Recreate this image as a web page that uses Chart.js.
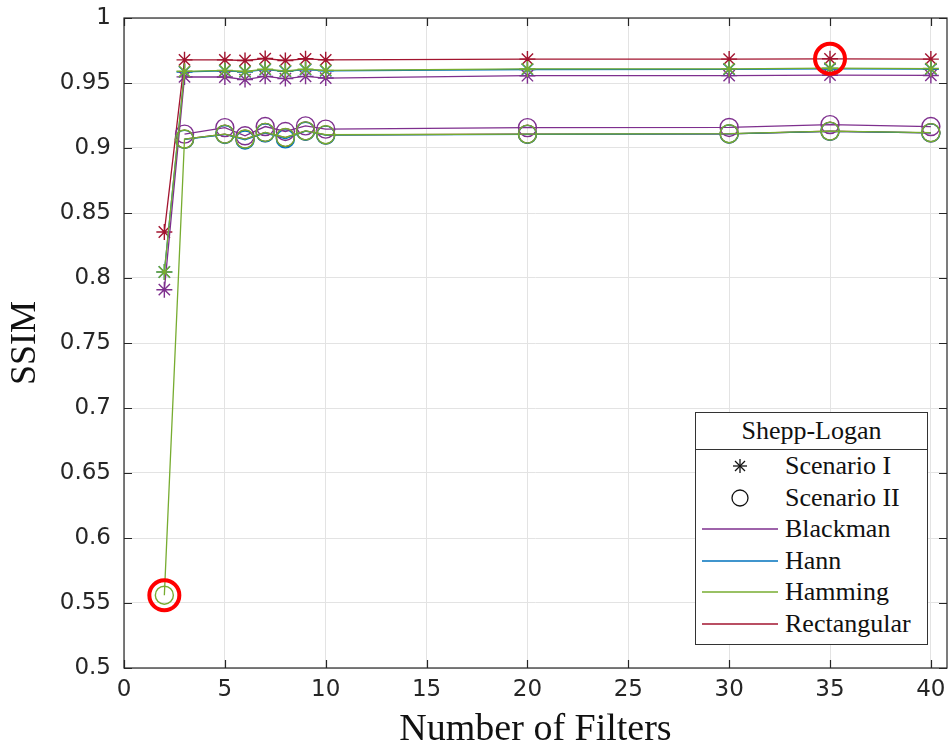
<!DOCTYPE html>
<html>
<head>
<meta charset="utf-8">
<script src="https://cdn.jsdelivr.net/npm/chart.js@4.4.1/dist/chart.umd.min.js"></script>
<style>
    html, body { margin: 0; padding: 0; background: #fff; }
    #wrap { position: relative; width: 950px; height: 747px; }
    #legend {
        position: absolute; left: 695px; top: 412px; width: 231px; height: 231px;
        border: 1.5px solid #333; background: #fff;
        font-family: "Liberation Serif", serif; font-size: 26px; color: #111;
    }
    #legend .title { height: 36px; line-height: 36px; text-align: center; border-bottom: 1.5px solid #333; }
    #legend .row { position: relative; height: 31.6px; line-height: 31.6px; padding-left: 89px; }
    #legend svg { position: absolute; left: 6px; top: 0; }
</style>
</head>
<body>
<div id="wrap">
    <canvas id="chart" width="950" height="747"></canvas>
    <div id="legend"></div>
</div>
<script>
// filter counts on the x axis
const xValues = [2, 3, 5, 6, 7, 8, 9, 10, 20, 30, 35, 40];
const xTicks = [0, 5, 10, 15, 20, 25, 30, 35, 40];

// Scenario I (asterisk markers)
const blackmanI    = [0.791, 0.9547, 0.9546, 0.9526, 0.9551, 0.9534, 0.9551, 0.9538, 0.9556, 0.9557, 0.9560, 0.9558];
const hannI        = [0.8046, 0.9585, 0.9593, 0.9585, 0.9603, 0.9590, 0.9603, 0.9593, 0.9604, 0.9605, 0.9608, 0.9606];
const hammingI     = [0.8046, 0.9590, 0.9597, 0.9589, 0.9607, 0.9594, 0.9607, 0.9597, 0.9608, 0.9609, 0.9614, 0.9611];
const rectangularI = [0.8354, 0.9678, 0.9678, 0.9673, 0.9688, 0.9673, 0.9686, 0.9678, 0.9684, 0.9684, 0.9686, 0.9684];

// Scenario II (circle markers)
const blackmanII    = [null, 0.9107, 0.9157, 0.9094, 0.9165, 0.9127, 0.9170, 0.9145, 0.9157, 0.9158, 0.9180, 0.9165];
const hannII        = [null, 0.9066, 0.9104, 0.9062, 0.9117, 0.9070, 0.9129, 0.9099, 0.9105, 0.9108, 0.9128, 0.9116];
const hammingII     = [0.556, 0.9069, 0.9107, 0.9069, 0.9120, 0.9081, 0.9132, 0.9102, 0.9107, 0.9110, 0.9130, 0.9118];
const rectangularII = [null, 0.9068, 0.9106, 0.9068, 0.9119, 0.9080, 0.9131, 0.9101, 0.9106, 0.9109, 0.9129, 0.9117];

const windows = ['Blackman', 'Hann', 'Hamming', 'Rectangular'];
const colors = ['#7E2F8E', '#0072BD', '#77AC30', '#A2142F'];
const drawOrder = [2, 3, 1, 4];   // lower = drawn on top
const seriesI = [blackmanI, hannI, hammingI, rectangularI];
const seriesII = [blackmanII, hannII, hammingII, rectangularII];

function toPoints(values) {
    return xValues.map((x, i) => ({ x: x, y: values[i] })).filter(p => p.y !== null);
}

// the two highlighted points: worst Hamming value and best Rectangular value
const highlights = [
    { x: xValues[0], y: hammingII[0] },
    { x: xValues[10], y: rectangularI[10] }
];

const datasets = [];
windows.forEach((name, k) => {
    datasets.push({
        label: name + ' I',
        data: toPoints(seriesI[k]),
        borderColor: colors[k],
        backgroundColor: 'transparent',
        borderWidth: 1.3,
        pointStyle: 'star',
        pointRadius: 8,
        pointBorderWidth: 1.4,
        order: drawOrder[k]
    });
    datasets.push({
        label: name + ' II',
        data: toPoints(seriesII[k]),
        borderColor: colors[k],
        backgroundColor: 'transparent',
        borderWidth: 1.3,
        pointStyle: 'circle',
        pointRadius: 9,
        pointBorderWidth: 1.4,
        order: drawOrder[k]
    });
});
datasets.push({
    label: 'highlight',
    data: highlights,
    showLine: false,
    borderColor: '#ff0000',
    backgroundColor: 'transparent',
    pointStyle: 'circle',
    pointRadius: 15,
    pointBorderWidth: 4,
    order: 0
});

// frame around the plot plus inward ticks on all four sides
const boxPlugin = {
    id: 'box',
    afterDraw(chart) {
        const { ctx, chartArea, scales } = chart;
        const { left, right, top, bottom } = chartArea;
        ctx.save();
        ctx.strokeStyle = '#262626';
        ctx.lineWidth = 1.2;
        ctx.strokeRect(left, top, right - left, bottom - top);
        ctx.beginPath();
        scales.x.ticks.forEach(t => {
            const px = Math.round(scales.x.getPixelForValue(t.value)) + 0.5;
            ctx.moveTo(px, bottom); ctx.lineTo(px, bottom - 8);
            ctx.moveTo(px, top); ctx.lineTo(px, top + 8);
        });
        scales.y.ticks.forEach(t => {
            const py = Math.round(scales.y.getPixelForValue(t.value)) + 0.5;
            ctx.moveTo(left, py); ctx.lineTo(left + 8, py);
            ctx.moveTo(right, py); ctx.lineTo(right - 8, py);
        });
        ctx.stroke();
        ctx.restore();
    }
};

new Chart(document.getElementById('chart'), {
    type: 'line',
    data: { datasets: datasets },
    options: {
        responsive: false,
        animation: false,
        layout: { autoPadding: false, padding: { top: 18, right: 3, left: 0, bottom: 0 } },
        plugins: {
            legend: { display: false },
            tooltip: { enabled: false }
        },
        scales: {
            x: {
                type: 'linear',
                min: 0,
                max: 40.8,
                afterBuildTicks(scale) {
                    scale.ticks = xTicks.map(v => ({ value: v }));
                },
                afterFit(scale) {
                    scale.height = 79;
                    scale.paddingLeft = 0;
                    scale.paddingRight = 0;
                },
                grid: { color: '#e3e3e3', drawTicks: false },
                border: { display: false },
                ticks: {
                    padding: 8,
                    color: '#262626',
                    font: { family: 'DejaVu Sans', size: 23 },
                    maxRotation: 0
                },
                title: {
                    display: true,
                    text: 'Number of Filters',
                    color: '#111',
                    padding: { top: 0, bottom: -6 },
                    font: { family: 'Liberation Serif', size: 38 }
                }
            },
            y: {
                min: 0.5,
                max: 1,
                afterFit(scale) {
                    scale.width = 124;
                    scale.paddingTop = 0;
                    scale.paddingBottom = 0;
                },
                grid: { color: '#e3e3e3', drawTicks: false },
                border: { display: false },
                ticks: {
                    stepSize: 0.05,
                    padding: 13,
                    color: '#262626',
                    font: { family: 'DejaVu Sans', size: 23 },
                    callback: v => String(Number(v.toFixed(2)))
                },
                title: {
                    display: true,
                    text: 'SSIM',
                    color: '#111',
                    padding: { top: 4, bottom: 0 },
                    font: { family: 'Liberation Serif', size: 36 }
                }
            }
        }
    },
    plugins: [boxPlugin]
});

// legend box with marker and line samples
const legend = document.getElementById('legend');
let html = '<div class="title">Shepp-Logan</div>';
html += '<div class="row"><svg width="80" height="32"><g stroke="#111" stroke-width="1.3">' +
    '<line x1="38" y1="9" x2="38" y2="23"/><line x1="31" y1="16" x2="45" y2="16"/>' +
    '<line x1="33" y1="11" x2="43" y2="21"/><line x1="33" y1="21" x2="43" y2="11"/></g></svg>Scenario I</div>';
html += '<div class="row"><svg width="80" height="32"><circle cx="38" cy="16" r="8" fill="none" stroke="#111" stroke-width="1.3"/></svg>Scenario II</div>';
windows.forEach((name, k) => {
    html += '<div class="row"><svg width="80" height="32"><line x1="0" y1="16" x2="76" y2="16" stroke="' +
        colors[k] + '" stroke-width="1.5"/></svg>' + name + '</div>';
});
legend.innerHTML = html;
</script>
</body>
</html>
